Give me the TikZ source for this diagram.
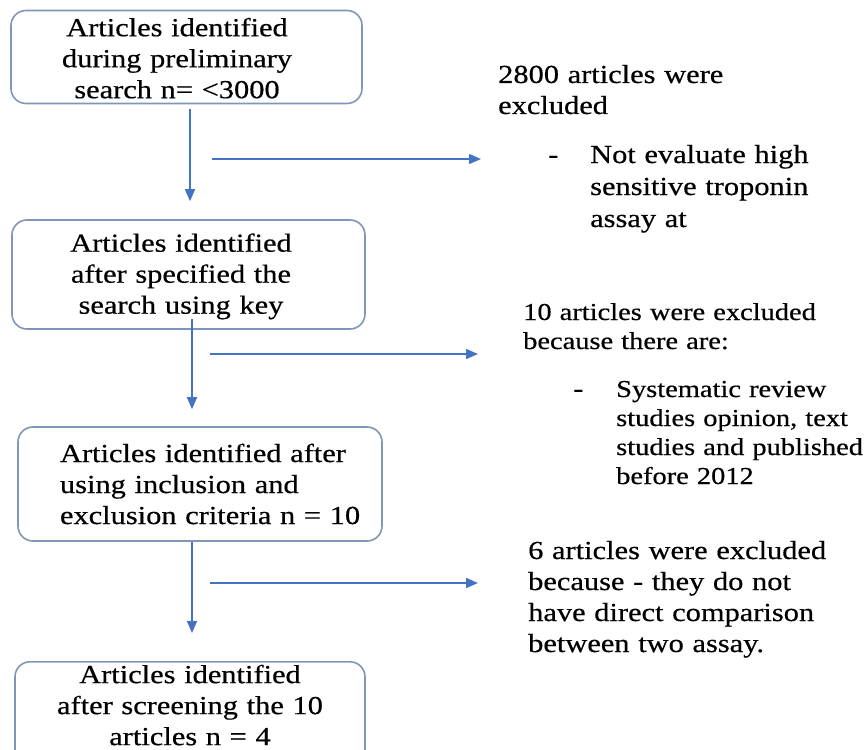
\documentclass[tikz,border=0pt]{standalone}
\usepackage{fontspec}
\setmainfont{Liberation Serif}[FakeStretch=1.17, FakeBold=0.5]
\usetikzlibrary{arrows.meta}
\definecolor{boxline}{RGB}{128,150,185}
\definecolor{arrowblue}{RGB}{68,114,196}

\begin{document}
\begin{tikzpicture}[x=1pt, y=-1pt,
    stage/.style={draw=boxline, line width=1.6pt, rounded corners=15pt, inner sep=0pt,
        align=center, text width=320pt, font=\fontsize{26}{31}\selectfont},
    flow/.style={arrowblue, line width=1.5pt, -{Triangle[length=12pt, width=10pt]}},
    note/.style={anchor=base west, inner sep=0pt, text width=#1, align=left,
        font=\fontsize{26}{31}\selectfont},
    note/.default=360pt]
    \useasboundingbox (0,0) rectangle (866,749);
    \clip (0,0) rectangle (866,749);

    % Boxes
    \node[stage, minimum width=351pt, minimum height=92pt] (found) at (186.5,57)
        {\raisebox{-4pt}[\height][\depth]{\begin{tabular}{@{}c@{\hspace{19pt}}}Articles identified\\during preliminary\\search n= <3000\end{tabular}}};
    \node[stage, minimum width=353pt, minimum height=109pt] (keyword) at (188.5,274.5)
        {\raisebox{-2pt}[\height][\depth]{\begin{tabular}{@{}c@{\hspace{15pt}}}Articles identified\\after specified the\\search using key\end{tabular}}};
    \node[stage, minimum width=364pt, minimum height=114pt, align=left, text width=330pt,
        execute at begin node={\leftskip=25pt}] (criteria) at (200,484)
        {Articles identified after\\using inclusion and\\exclusion criteria n = 10};
    \node[stage, anchor=north, minimum width=350pt, inner ysep=3pt, text depth=100pt] (final) at (190,661)
        {Articles identified\\after screening the 10\\articles n = 4};

    % Main flow
    \draw[flow] ([xshift=3.5pt, yshift=-5pt]found.south) -- ([xshift=1.5pt, yshift=18pt]keyword.north);
    \draw[flow] ([xshift=3.5pt, yshift=11pt]keyword.south) -- ([xshift=-8pt, yshift=17pt]criteria.north);
    \draw[flow] ([xshift=-8pt]criteria.south) -- ([xshift=2pt, yshift=28pt]final.north);

    % Exclusions
    \coordinate (out1) at (212,159);
    \coordinate (in1) at (481,159);
    \coordinate (out2) at (210,354);
    \coordinate (in2) at (478,354);
    \coordinate (out3) at (210,583);
    \coordinate (in3) at (478,583);
    \draw[flow] (out1) -- (in1);
    \draw[flow] (out2) -- (in2);
    \draw[flow] (out3) -- (in3);

    \node[note] (drop1) at (498,83) {2800 articles were\\excluded};
    \node[note, text width=20pt] (dash1) at (548,163) {-};
    \node[note, font=\fontsize{26}{32}\selectfont] (why1) at (590,163)
        {Not evaluate high\\sensitive troponin\\assay at};
    \node[note, font=\fontsize{24.3}{29}\selectfont] (drop2) at (523,320)
        {10 articles were excluded\\because there are:};
    \node[note, text width=20pt] (dash2) at (573,397) {-};
    \node[note, font=\fontsize{24.3}{29}\selectfont] (why2) at (616,397)
        {Systematic review\\studies opinion, text\\studies and published\\before 2012};
    \node[note] (drop3) at (528,559)
        {6 articles were excluded\\because - they do not\\have direct comparison\\between two assay.};
\end{tikzpicture}
\end{document}
